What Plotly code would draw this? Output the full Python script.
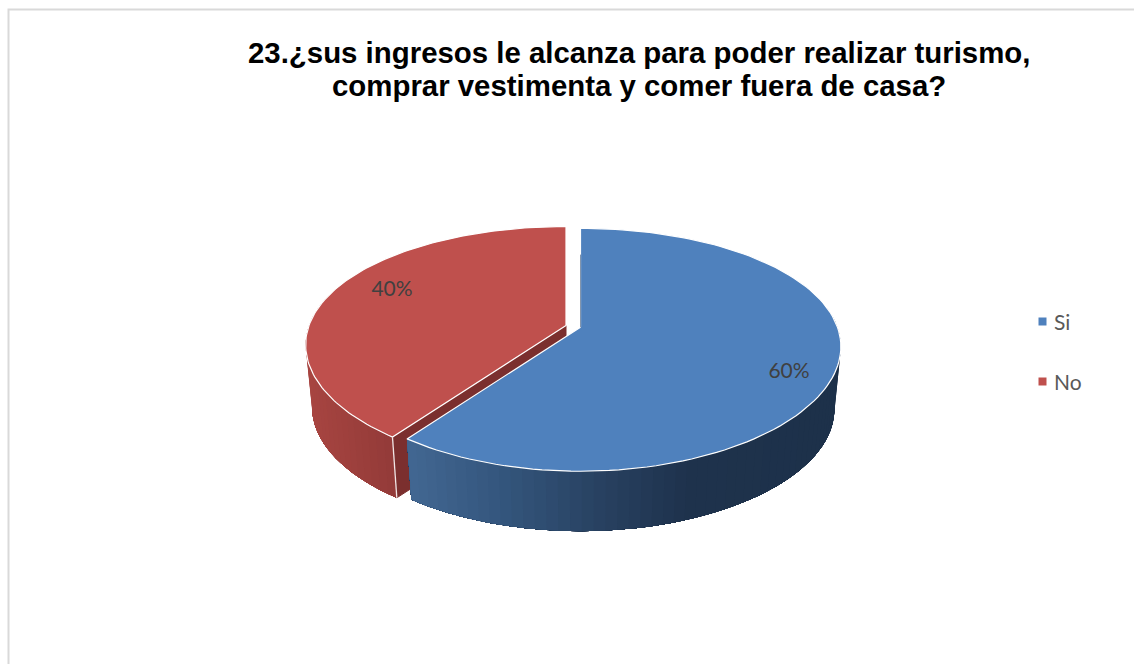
import math
import plotly.graph_objects as go

# ---- data ----
categories = ["Si", "No"]
shares = [60, 40]
percent_labels = ["60%", "40%"]
title_lines = ["23.¿sus ingresos le alcanza para poder realizar turismo,",
               "comprar vestimenta y comer fuera de casa?"]

# ---- style ----
top_colors = ["#4f81bd", "#bf504d"]
cut_color = "#7b2f2e"
W, H = 1134, 664
APEX = [(580.5, 327.3), (566.0, 325.5)]      # where each slice's tip sits on the page
RADIUS, FORESHORTEN, TILT, TILT_X = 257.0, 117.3, 0.185, 0.16
DEPTH, BOTTOM_SCALE = 63.5, 0.975
LABEL_POS = [(789, 373), (392, 291)]
TITLE_CENTER_X, TITLE_LINE_Y = 639, [52, 85]


def project(apex, turn, r=1.0, drop=0.0, scale=1.0):
    """Map a point of the pie's disc (turn in degrees, clockwise from top) to the page."""
    a = math.radians(turn)
    u, v = r * math.sin(a), -r * math.cos(a)
    return (apex[0] + scale * RADIUS * u / (1 - TILT_X * v),
            apex[1] + drop + scale * FORESHORTEN * v / (1 - TILT * v))


def rim(apex, t0, t1, n=120, **kw):
    return [project(apex, t0 + (t1 - t0) * i / n, **kw) for i in range(n + 1)]


def mix(stops, x):
    for (x0, c0), (x1, c1) in zip(stops, stops[1:]):
        if x <= x1:
            f = max(0.0, (x - x0) / (x1 - x0))
            return "rgb(%d,%d,%d)" % tuple(round(a + (b - a) * f) for a, b in zip(c0, c1))
    return "rgb(%d,%d,%d)" % stops[-1][1]


side_ramps = [
    [(407, (66, 103, 146)), (500, (52, 86, 125)), (600, (40, 65, 97)), (690, (30, 50, 76)), (840, (29, 49, 74))],
    [(305, (168, 69, 65)), (395, (146, 58, 56))],
]

# slice extents, clockwise from the top of the pie
spans, start = [], 0.0
for s in shares:
    spans.append((start, start + 360.0 * s / sum(shares)))
    start = spans[-1][1]

fig = go.Figure()


def poly(points, fill, line=None, width=1.0):
    xs = [p[0] for p in points] + [points[0][0]]
    ys = [p[1] for p in points] + [points[0][1]]
    fig.add_trace(go.Scatter(x=xs, y=ys, mode="lines", fill="toself", fillcolor=fill,
                             line=dict(color=line or fill, width=width),
                             hoverinfo="skip", showlegend=False))


def polyline(points, color, width):
    fig.add_trace(go.Scatter(x=[p[0] for p in points], y=[p[1] for p in points], mode="lines",
                             line=dict(color=color, width=width),
                             hoverinfo="skip", showlegend=False))


def side_gradient(apex, t0, t1, ramp, n=40):
    """Paint the outer wall in overlapping bands, each reaching to the far end, so no seams show."""
    for i in range(n):
        a = t0 + (t1 - t0) * i / n
        b = t0 + (t1 - t0) * (i + 1) / n
        upper = rim(apex, a, t1, n=n - i)
        lower = rim(apex, a, t1, n=n - i, drop=DEPTH, scale=BOTTOM_SCALE)
        x_mid = (project(apex, a)[0] + project(apex, b)[0]) / 2
        poly(upper + lower[::-1], mix(ramp, x_mid), width=0)


# red slice (behind the blue one)
red, blue = 1, 0
a_red, b_red = spans[red]
red_apex = APEX[red]
side_gradient(red_apex, a_red + 70, a_red, side_ramps[red], n=30)
corner_top = project(red_apex, a_red)
corner_bot = project(red_apex, a_red, drop=DEPTH, scale=BOTTOM_SCALE)
apex_bot = (red_apex[0], red_apex[1] + DEPTH)
poly([red_apex, corner_top, corner_bot, apex_bot], cut_color)
poly([red_apex] + rim(red_apex, a_red, b_red), top_colors[red], line="#ffffff", width=1.2)
polyline([corner_top, corner_bot], "#f2e6e6", 1.3)

# blue slice
a_blue, b_blue = spans[blue]
blue_apex = APEX[blue]
side_gradient(blue_apex, 80, b_blue, side_ramps[blue], n=60)
poly([blue_apex] + rim(blue_apex, a_blue, b_blue), top_colors[blue], line="#ffffff", width=1.2)
# thin sliver of the slice's hidden cut face
polyline([project(blue_apex, a_blue, r=0.7), blue_apex], "#8496ad", 1)

# percent labels
fig.add_trace(go.Scatter(x=[p[0] for p in LABEL_POS], y=[p[1] for p in LABEL_POS],
                         mode="text", text=percent_labels,
                         textfont=dict(family="Lato", size=21, color="#404040"),
                         textposition="middle center", hoverinfo="skip", showlegend=False))

# legend entries
LEG_X, LEG_TXT_X, LEG_Y, LEG_STEP = 1042.5, 1055, 321.5, 60
for i, cat in enumerate(categories):
    fig.add_trace(go.Scatter(x=[LEG_X], y=[LEG_Y + i * LEG_STEP], mode="markers", name=cat,
                             marker=dict(symbol="square", size=8, color=top_colors[i]),
                             hoverinfo="skip", showlegend=False))
    fig.add_annotation(x=LEG_TXT_X, y=LEG_Y + i * LEG_STEP, text=cat, showarrow=False,
                       xanchor="left", yanchor="middle", xshift=-3,
                       font=dict(family="Lato", size=21, color="#595959"))

for line, y in zip(title_lines, TITLE_LINE_Y):
    fig.add_annotation(x=TITLE_CENTER_X, y=y, text=line, showarrow=False,
                       xanchor="center", yanchor="middle",
                       font=dict(family="Liberation Sans", size=29.4, color="#000000", weight="bold"))

fig.update_layout(
    width=W, height=H, autosize=False, margin=dict(l=0, r=0, t=0, b=0, pad=0),
    paper_bgcolor="#ffffff", plot_bgcolor="#ffffff", showlegend=False,
    xaxis=dict(range=[0, W], visible=False, fixedrange=True),
    yaxis=dict(range=[H, 0], visible=False, fixedrange=True),
    shapes=[dict(type="rect", xref="x", yref="y", x0=8.5, y0=9.5, x1=W + 20, y1=H + 20,
                 line=dict(color="#d9d9d9", width=2), fillcolor="rgba(0,0,0,0)", layer="below")],
)

fig.write_html("out.html", config={"displayModeBar": False},
               post_script="document.body.style.margin='0';")
